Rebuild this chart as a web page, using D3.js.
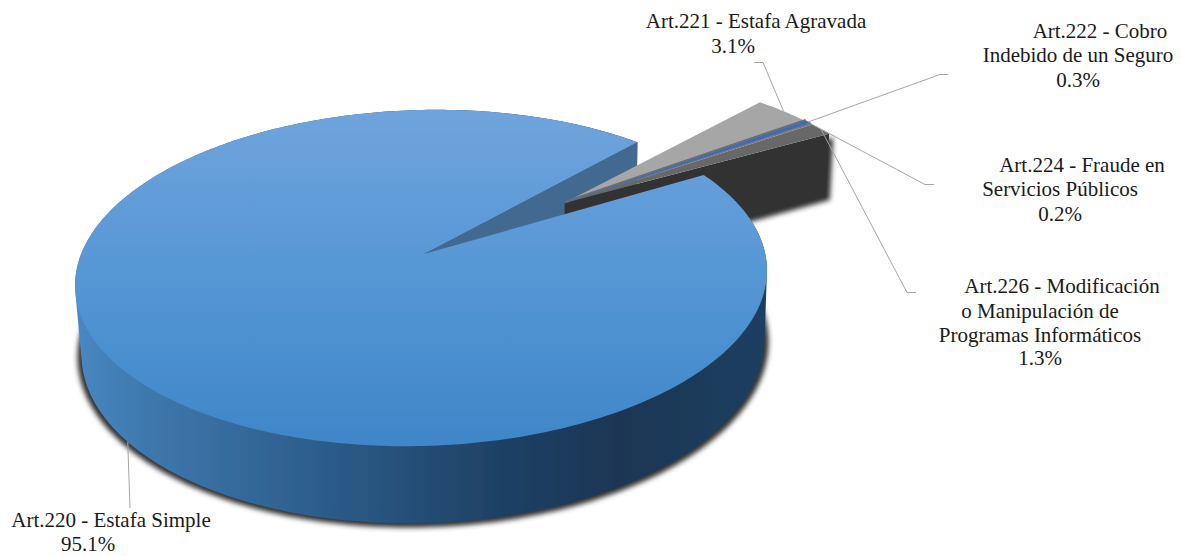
<!DOCTYPE html>
<html>
<head>
<meta charset="utf-8">
<script src="https://cdn.jsdelivr.net/npm/d3@7"></script>
<style>
  html, body { margin: 0; padding: 0; background: #fff; }
  svg { display: block; }
  text { font-family: "Liberation Serif", serif; font-size: 21px; fill: #1a1a1a; text-anchor: middle; }
  .leader { fill: none; stroke: #a6a6a6; stroke-width: 1; }
</style>
</head>
<body>
<svg id="svg" width="1181" height="556"></svg>
<script>
(function () {
  const categories = ['Art.220 - Estafa Simple', 'Art.221 - Estafa Agravada', 'Art.222 - Cobro Indebido de un Seguro', 'Art.224 - Fraude en Servicios Públicos', 'Art.226 - Modificación o Manipulación de Programas Informáticos'];
  const values = [95.1, 3.1, 0.3, 0.2, 1.3];
  const sliceColors = [null, '#a6a6a6', '#3f6cb8', '#7a7a7a', '#686868'];
  const labelLines = [
    ['Art.220 - Estafa Simple', '95.1%'],
    ['Art.221 - Estafa Agravada', '3.1%'],
    ['Art.222 - Cobro', 'Indebido de un Seguro', '0.3%'],
    ['Art.224 - Fraude en', 'Servicios Públicos', '0.2%'],
    ['Art.226 - Modificación', 'o Manipulación de', 'Programas Informáticos', '1.3%']
  ];
  // label placement, one [centre x, baseline y] per line
  const labelPos = [
    [[111, 527], [88, 551]],
    [[756, 28], [733, 53]],
    [[1100, 38], [1078, 62], [1078, 87]],
    [[1082, 172], [1060, 196], [1060, 221]],
    [[1062, 293], [1040, 318], [1040, 342], [1040, 365]]
  ];
  // leader elbows: [elbow x, elbow y, end x]
  const leaderElbow = [
    [130, 508, 130],
    [763, 62.5, 754],
    [940, 74.5, 948],
    [925, 184.5, 934],
    [907, 292.5, 916]
  ];

  const svg = d3.select('#svg');
  const defs = svg.append('defs');

  // perspective of the pie plane, fitted on the picture
  const cx = 421, cy = 254, hubX = 424;
  const K = 1 / 7, A = 164.6, B = 342.4;        // top face
  const A2 = 172.5, B2 = 338, X2 = 2, Y2 = 68;  // bottom face
  const rad = d => d * Math.PI / 180;
  const startDeg = 61.8;
  const explode = 0.555;
  const restRadius = 1.02;
  const restDrop = 2;     // exploded part sits a bit lower
  const tilt = 0.0217;    // the main slice leans, its right side is higher

  function top(u, v) {
    const w = 1 - K * v;
    return [cx + B * u / w, cy + restDrop + A * v / w];
  }
  function bottom(u, v) {
    const w = 1 - K * v;
    return [cx + X2 + B2 * u / w, cy + restDrop + Y2 + A2 * v / w];
  }
  // same faces for the main slice
  const leaned = face => (u, v) => {
    const p = face(u, v);
    return [p[0], p[1] - restDrop - tilt * (p[0] - cx)];
  };
  const topMain = leaned(top), bottomMain = leaned(bottom);
  const polar = (a, r) => [r * Math.sin(a), -r * Math.cos(a)];

  const pie = d3.pie().sort(null).startAngle(rad(startDeg)).endAngle(rad(startDeg) + 2 * Math.PI);
  const arcs = pie(values);

  const mainArc = arcs[0];
  const restStart = arcs[1].startAngle, restEnd = arcs[4].endAngle;
  // the small group keeps the angles
  const restShift = rad(-0.6);
  const restMid = (restStart + restEnd) / 2 + restShift;
  const off = polar(restMid, explode);

  function model(a, shifted) {
    const p = polar(shifted ? a + restShift : a, shifted ? restRadius : 1);
    return shifted ? [p[0] + off[0], p[1] + off[1]] : p;
  }
  function rim(a0, a1, shifted, face) {
    const n = Math.max(2, Math.ceil(Math.abs(a1 - a0) / rad(1)));
    return d3.range(n + 1).map(i => {
      const m = model(a0 + (a1 - a0) * i / n, shifted);
      return face(m[0], m[1]);
    });
  }
  const line = d3.line();
  const closed = pts => line(pts) + 'Z';
  const orient = q => d3.polygonArea(q) < 0 ? q.slice().reverse() : q;

  // gradients
  const topGrad = defs.append('linearGradient').attr('id', 'topGrad').attr('gradientUnits', 'userSpaceOnUse')
    .attr('x1', 0).attr('x2', 0).attr('y1', 110).attr('y2', 446);
  [[0, '#70a4dc'], [0.5, '#5596d5'], [1, '#3f86c8']].forEach(s => topGrad.append('stop').attr('offset', s[0]).attr('stop-color', s[1]));

  const sideGrad = defs.append('linearGradient').attr('id', 'sideGrad').attr('gradientUnits', 'userSpaceOnUse')
    .attr('x1', 78).attr('x2', 768).attr('y1', 0).attr('y2', 0);
  [[0, '#4887c2'], [0.1, '#3e78ad'], [0.33, '#2e5f8e'], [0.6, '#1f4266'], [0.78, '#1a3654'], [1, '#1f3f60']]
    .forEach(s => sideGrad.append('stop').attr('offset', s[0]).attr('stop-color', s[1]));

  const blur = defs.append('filter').attr('id', 'shadow').attr('x', '-10%').attr('y', '-10%').attr('width', '120%').attr('height', '120%');
  blur.append('feGaussianBlur').attr('stdDeviation', 2.4);
  const soft = defs.append('filter').attr('id', 'soft');
  soft.append('feGaussianBlur').attr('stdDeviation', 0.45);

  const chart = svg.append('g');

  // main slice side, built from rim quads
  const topRim = rim(mainArc.startAngle, mainArc.endAngle, false, topMain);
  const botRim = rim(mainArc.startAngle, mainArc.endAngle, false, bottomMain);
  const quads = topRim.slice(1).map((p, i) => closed(orient([topRim[i], p, botRim[i + 1], botRim[i]])));
  const botShape = closed(orient([bottomMain(0, 0)].concat(botRim)));

  // exploded slices: side wall of the last one
  const lastTop = model(restEnd, true), hub = off;
  const wall = [top(hub[0], hub[1]), top(lastTop[0], lastTop[1]), bottom(lastTop[0], lastTop[1]), bottom(hub[0], hub[1])];
  const restBot = closed([bottom(hub[0], hub[1])].concat(rim(restStart, restEnd, true, bottom)));

  // shadows under both parts
  chart.append('path').attr('d', botShape).attr('fill', '#333')
    .attr('transform', 'translate(423,347) scale(1.012,1.012) translate(-423,-345)').attr('filter', 'url(#shadow)');
  chart.append('path').attr('d', closed(wall)).attr('fill', '#333').attr('transform', 'translate(4,4)').attr('filter', 'url(#shadow)');

  const faces = chart.append('g').attr('filter', 'url(#soft)');
  faces.append('path').attr('d', botShape + quads.join('')).attr('fill', 'url(#sideGrad)');

  // cut face of the main slice
  const endRim = model(mainArc.endAngle, false);
  faces.append('path')
    .attr('d', closed([[hubX, cy], topMain(endRim[0], endRim[1]), bottomMain(endRim[0], endRim[1]), bottomMain(0, 0)]))
    .attr('fill', '#43698f');

  // exploded slices
  faces.append('path').attr('d', restBot).attr('fill', '#333');
  faces.append('path').attr('d', closed(wall)).attr('fill', '#333');
  faces.selectAll('path.small').data(arcs.slice(1)).join('path')
    .attr('class', 'small')
    .attr('d', d => closed([top(hub[0], hub[1])].concat(rim(d.startAngle, d.endAngle, true, top))))
    .attr('fill', (d, i) => sliceColors[i + 1])
    .attr('stroke', (d, i) => i === 1 ? sliceColors[2] : 'none')
    .attr('stroke-width', 1.6);
  // dark seam along the blue sliver
  const seam = model(arcs[2].startAngle, true);
  const seamA = top(hub[0], hub[1]), seamB = top(seam[0], seam[1]);
  faces.append('path').attr('class', 'leader')
    .attr('d', line([[seamA[0], seamA[1] - 1], [seamB[0], seamB[1] - 1.5]]))
    .style('stroke', '#6d6d6d').style('stroke-width', 1.6);

  // main slice top goes last, it hides the exploded hub
  faces.append('path')
    .attr('d', closed([[hubX, cy]].concat(topRim)))
    .attr('fill', 'url(#topGrad)');

  // leaders start on the rim at the middle of each slice
  const leaderData = arcs.map((d, i) => {
    const mid = (d.startAngle + d.endAngle) / 2;
    const m = model(mid, i > 0);
    const from = i === 0 ? bottomMain(m[0], m[1]) : top(m[0], m[1]);
    const e = leaderElbow[i];
    return [from, [e[0], e[1]], [e[2], e[1]]];
  });
  svg.selectAll('path.leader.out').data(leaderData).join('path')
    .attr('class', 'leader out')
    .attr('d', d => line(d));

  // labels
  const labelG = svg.selectAll('text.label').data(categories).join('text').attr('class', 'label');
  labelG.selectAll('tspan').data((d, i) => labelLines[i].map((t, j) => ({ t: t, p: labelPos[i][j] }))).join('tspan')
    .attr('x', d => d.p[0]).attr('y', d => d.p[1]).text(d => d.t);
})();
</script>
</body>
</html>
